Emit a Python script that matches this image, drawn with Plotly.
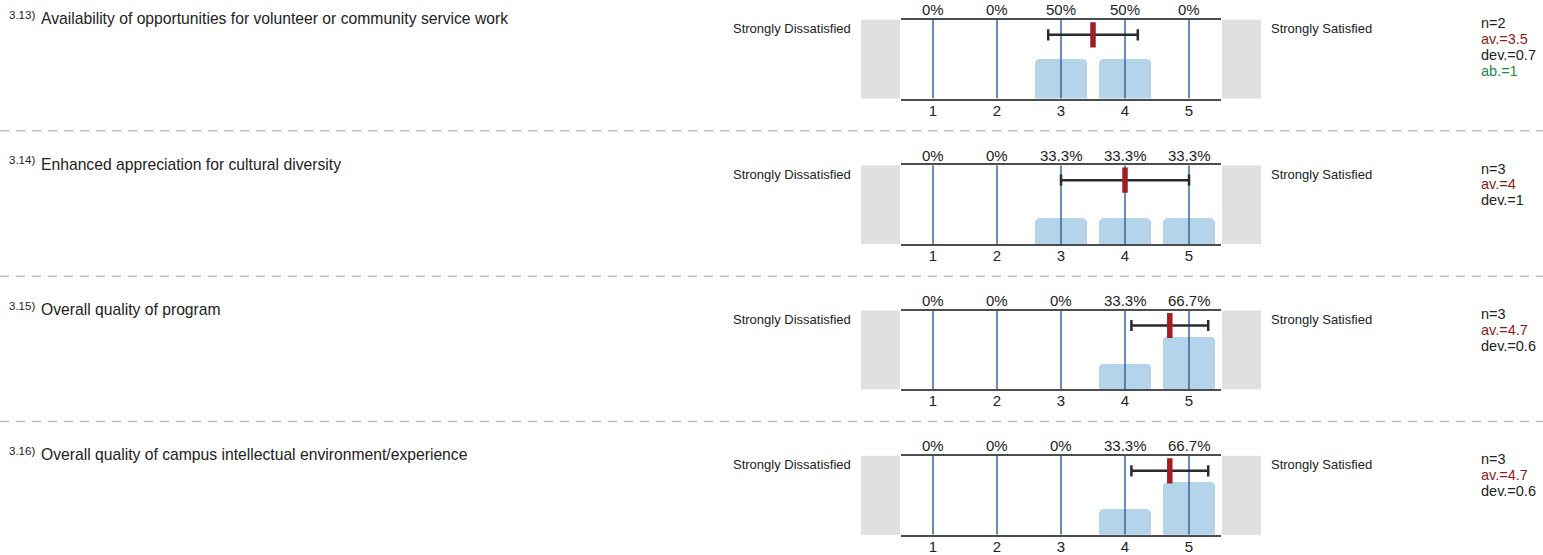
import plotly.graph_objects as go

# ---------------- data ----------------
question_ids = ["3.13)", "3.14)", "3.15)", "3.16)"]
question_texts = [
    "Availability of opportunities for volunteer or community service work",
    "Enhanced appreciation for cultural diversity",
    "Overall quality of program",
    "Overall quality of campus intellectual environment/experience",
]
scale_points = [1, 2, 3, 4, 5]
left_label = "Strongly Dissatisfied"
right_label = "Strongly Satisfied"
pct_313 = [0, 0, 50, 50, 0]
pct_314 = [0, 0, 33.3, 33.3, 33.3]
pct_315 = [0, 0, 0, 33.3, 66.7]
pct_316 = [0, 0, 0, 33.3, 66.7]
percents = [pct_313, pct_314, pct_315, pct_316]
n_vals = [2, 3, 3, 3]
av_vals = [3.5, 4, 4.7, 4.7]
dev_vals = [0.7, 1, 0.6, 0.6]
ab_vals = [1, None, None, None]

# ---------------- layout helpers ----------------
W, H = 1543, 555
FONT = "Liberation Sans, Arial, sans-serif"
X0, X1 = 901, 1221          # plot area pixels
TOP0, STEP, PH = 20, 146.67, 79.5
ERR_Y = 0.81

BAR_COLOR = "#b3d4ea"
GRID_COLOR = "#2a5f93"
AXIS_COLOR = "#4d4d4d"
GRAY_BOX = "#dfe0e1"
MEAN_COLOR = "#a51d21"
TXT = "#222222"


def px(x):
    return x / W


def py(y):
    return 1 - y / H


fig = go.Figure()
shapes = []
annotations = []

for i in range(len(question_ids)):
    top = TOP0 + i * STEP
    bot = top + PH
    k = "" if i == 0 else str(i + 1)
    xa, ya = "x" + k, "y" + k
    vals = percents[i]

    # bars
    fig.add_trace(go.Bar(
        x=scale_points, y=[v / 100 for v in vals], width=0.8,
        marker=dict(color=BAR_COLOR, cornerradius=5, line=dict(width=0)),
        xaxis=xa, yaxis=ya, showlegend=False, hoverinfo="skip"))

    # vertical lines at each scale point
    gx, gy = [], []
    for s in scale_points:
        gx += [s, s, None]
        gy += [0, 1, None]
    fig.add_trace(go.Scatter(
        x=gx, y=gy, mode="lines", line=dict(color=GRID_COLOR, width=1.4),
        xaxis=xa, yaxis=ya, showlegend=False, hoverinfo="skip"))

    # error bar (mean +/- dev)
    lo, hi = av_vals[i] - dev_vals[i], av_vals[i] + dev_vals[i]
    fig.add_trace(go.Scatter(
        x=[lo, hi], y=[ERR_Y, ERR_Y], mode="lines+markers",
        line=dict(color="#2b2b2b", width=2.5),
        marker=dict(symbol="line-ns", size=8,
                    line=dict(color="#2b2b2b", width=2.5)),
        xaxis=xa, yaxis=ya, showlegend=False, hoverinfo="skip"))

    # mean marker
    fig.add_trace(go.Scatter(
        x=[av_vals[i]], y=[ERR_Y], mode="markers",
        marker=dict(symbol="line-ns", size=18,
                    line=dict(color=MEAN_COLOR, width=5.5)),
        xaxis=xa, yaxis=ya, showlegend=False, hoverinfo="skip"))

    # axes
    fig.layout["xaxis" + k] = dict(
        domain=[px(X0), px(X1)], range=[0.5, 5.5], anchor=ya,
        showline=True, mirror=True, linecolor=AXIS_COLOR, linewidth=2,
        ticks="", tickvals=scale_points, ticktext=[str(s) for s in scale_points],
        tickfont=dict(family=FONT, size=15, color=TXT), ticklabelstandoff=-3,
        showgrid=False, zeroline=False, fixedrange=True)
    fig.layout["yaxis" + k] = dict(
        domain=[py(bot), py(top)], range=[0, 1], anchor=xa,
        visible=False, fixedrange=True)

    # percent labels above
    for s, v in zip(scale_points, vals):
        annotations.append(dict(
            x=s, y=py(top - 10), xref=xa, yref="paper", text=f"{v:g}%",
            showarrow=False, xanchor="center", yanchor="middle",
            font=dict(family=FONT, size=15, color=TXT)))

    # gray end boxes
    shapes.append(dict(type="rect", xref="paper", yref="paper",
                       x0=px(861), x1=px(X0 - 1), y0=py(bot), y1=py(top),
                       fillcolor=GRAY_BOX, line=dict(width=0), layer="below"))
    shapes.append(dict(type="rect", xref="paper", yref="paper",
                       x0=px(X1 + 1), x1=px(1261), y0=py(bot), y1=py(top),
                       fillcolor=GRAY_BOX, line=dict(width=0), layer="below"))

    # end labels
    annotations.append(dict(
        x=px(853), y=py(top + 9), xref="paper", yref="paper", text=left_label,
        showarrow=False, xanchor="right", yanchor="middle",
        font=dict(family=FONT, size=13, color=TXT)))
    annotations.append(dict(
        x=px(1269), y=py(top + 9), xref="paper", yref="paper", text=right_label,
        showarrow=False, xanchor="left", yanchor="middle",
        font=dict(family=FONT, size=13, color=TXT)))

    # question title
    annotations.append(dict(
        x=px(7), y=py(top - 5), xref="paper", yref="paper", text=question_ids[i],
        showarrow=False, xanchor="left", yanchor="middle",
        font=dict(family=FONT, size=11.5, color=TXT)))
    annotations.append(dict(
        x=px(39), y=py(top - 1), xref="paper", yref="paper", text=question_texts[i],
        showarrow=False, xanchor="left", yanchor="middle",
        font=dict(family=FONT, size=15.7, color=TXT)))

    # stats
    stats = [(f"n={n_vals[i]}", TXT), (f"av.={av_vals[i]:g}", "#8c1c1c"),
             (f"dev.={dev_vals[i]:g}", TXT)]
    if ab_vals[i] is not None:
        stats.append((f"ab.={ab_vals[i]:g}", "#1b8b4b"))
    for j, (t, c) in enumerate(stats):
        annotations.append(dict(
            x=px(1479), y=py(top + 3.5 + 16 * j), xref="paper", yref="paper", text=t,
            showarrow=False, xanchor="left", yanchor="middle",
            font=dict(family=FONT, size=14.5, color=c)))

    # dashed separator
    if i < len(question_ids) - 1:
        sep = top + 112
        shapes.append(dict(type="line", xref="paper", yref="paper",
                           x0=0, x1=1, y0=py(sep), y1=py(sep),
                           line=dict(color="#bbbbbb", width=1.5, dash="9px,7px")))

fig.update_layout(
    width=W, height=H, margin=dict(l=0, r=0, t=0, b=0),
    paper_bgcolor="white", plot_bgcolor="white",
    shapes=shapes, annotations=annotations, bargap=0,
    showlegend=False, font=dict(family=FONT, color=TXT))

fig.write_html("out.html", config={"displayModeBar": False},
               post_script="document.body.style.margin='0';")
